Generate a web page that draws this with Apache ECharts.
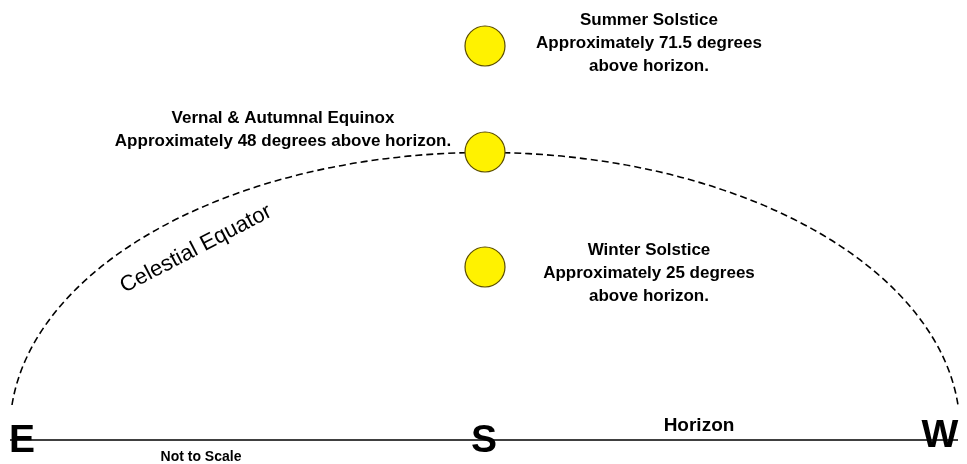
<!DOCTYPE html>
<html>
<head>
<meta charset="utf-8">
<title>Sun path</title>
<script src="https://cdn.jsdelivr.net/npm/echarts@6/dist/echarts.min.js"></script>
<style>
  html, body { margin: 0; padding: 0; background: #fff; }
  #chart { width: 967px; height: 464px; }
</style>
</head>
<body>
<div id="chart"></div>
<script>
// x = offset from South (px), y = height above the horizon (px)
const sunNames = ['Summer Solstice', 'Vernal & Autumnal Equinox', 'Winter Solstice'];
const sunDegrees = [71.5, 48, 25];
const sunHeights = [394, 288, 173];
const horizonEnds = [-475, 473];
const equatorEnds = [-473, 473];
const equatorEndHeight = 35;
const equatorRadii = [475, 278];
const directions = ['E', 'S', 'W'];

// label placement for each sun (offset from the sun, line break)
const labelLayout = [
  { offset: [164, -3], sep: '\n' },
  { offset: [-202, -22], sep: ' ' },
  { offset: [164, 6] , sep: '\n' }
];

const chart = echarts.init(document.getElementById('chart'));

const sunData = sunNames.map((name, i) => ({
  name: name,
  value: [0, sunHeights[i]],
  label: {
    offset: labelLayout[i].offset,
    formatter: name + '\nApproximately ' + sunDegrees[i] + ' degrees' + labelLayout[i].sep + 'above horizon.'
  }
}));

const font = 'Liberation Sans, Arial, sans-serif';
const dirPos = [[22, 441], [484, 441], [940, 436]];

const option = {
  animation: false,
  grid: { left: 0, right: 0, top: 0, bottom: 0 },
  xAxis: { type: 'value', min: -485, max: 482, show: false },
  yAxis: { type: 'value', min: -24, max: 440, show: false },
  series: [
    {
      // horizon
      type: 'line',
      data: horizonEnds.map(x => [x, 0]),
      symbol: 'none',
      lineStyle: { color: '#000', width: 1.4 },
      z: 1
    },
    {
      // celestial equator, dashed half ellipse
      type: 'custom',
      data: [[equatorEnds[0], equatorEnds[1], equatorEndHeight, equatorRadii[0], equatorRadii[1]]],
      renderItem: (params, api) => {
        const p1 = api.coord([api.value(0), api.value(2)]);
        const p2 = api.coord([api.value(1), api.value(2)]);
        const r = api.size([api.value(3), api.value(4)]);
        return {
          type: 'path',
          shape: {
            pathData: 'M' + p1[0] + ' ' + p1[1] + ' A' + r[0] + ' ' + r[1] + ' 0 0 1 ' + p2[0] + ' ' + p2[1],
            layout: 'cover'
          },
          style: { fill: 'none', stroke: '#000', lineWidth: 1.6, lineDash: [7, 4] }
        };
      },
      z: 2
    },
    {
      type: 'scatter',
      data: sunData,
      symbol: 'circle',
      symbolSize: 40,
      itemStyle: { color: '#FFF200', borderColor: '#5a4c00', borderWidth: 1.2, opacity: 1 },
      label: {
        show: true,
        position: 'inside',
        align: 'center',
        verticalAlign: 'middle',
        color: '#000',
        fontFamily: font,
        fontWeight: 'bold',
        fontSize: 17,
        lineHeight: 23
      },
      emphasis: { disabled: true },
      z: 3
    }
  ],
  graphic: directions.map((d, i) => ({
    type: 'text',
    x: dirPos[i][0],
    y: dirPos[i][1],
    z: 10,
    style: {
      text: d, fill: '#000', fontFamily: font, fontWeight: 'bold', fontSize: 39,
      textAlign: 'center', textVerticalAlign: 'middle', align: 'center', verticalAlign: 'middle'
    }
  })).concat([
    {
      type: 'text', x: 699, y: 426,
      style: {
        text: 'Horizon', fill: '#000', fontFamily: font, fontWeight: 'bold', fontSize: 19,
        textAlign: 'center', textVerticalAlign: 'middle', align: 'center', verticalAlign: 'middle'
      }
    },
    {
      type: 'text', x: 201, y: 457,
      style: {
        text: 'Not to Scale', fill: '#000', fontFamily: font, fontWeight: 'bold', fontSize: 14,
        textAlign: 'center', textVerticalAlign: 'middle', align: 'center', verticalAlign: 'middle'
      }
    },
    {
      type: 'text', x: 196, y: 249, rotation: 0.48,
      style: {
        text: 'Celestial Equator', fill: '#000', fontFamily: font, fontSize: 22,
        textAlign: 'center', textVerticalAlign: 'middle', align: 'center', verticalAlign: 'middle'
      }
    }
  ])
};

chart.setOption(option);
</script>
</body>
</html>
